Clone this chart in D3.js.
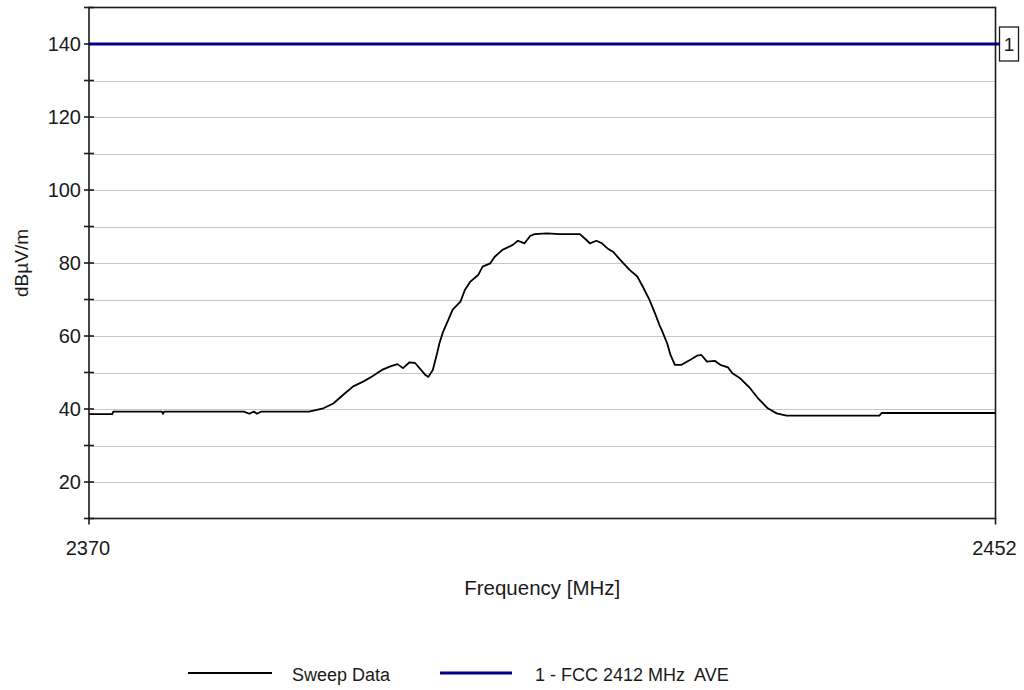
<!DOCTYPE html>
<html>
<head>
<meta charset="utf-8">
<script src="https://cdn.jsdelivr.net/npm/d3@7"></script>
<style>
  html, body { margin: 0; padding: 0; background: #fff; }
  svg { display: block; font-family: "Liberation Sans", Arial, sans-serif; }
</style>
</head>
<body>
<svg id="chart" width="1024" height="690"></svg>
<script>
// ---- data ----
const sweepFreq = [
  2370.0, 2372.1, 2372.2, 2376.6, 2376.7, 2376.8, 2384.0, 2384.5, 2384.9, 2385.2, 2385.6, 2389.9,
  2390.4, 2391.2, 2392.1, 2393.0, 2393.9, 2394.8, 2395.6, 2396.5, 2397.2, 2397.9,
  2398.4, 2399.0, 2399.5, 2400.4, 2400.7, 2401.1, 2401.5, 2401.7, 2402.0, 2402.5,
  2402.9, 2403.6, 2404.0, 2404.5, 2405.2, 2405.6, 2406.3, 2406.7, 2407.4, 2408.3,
  2408.8, 2409.4, 2409.9, 2410.3, 2411.4, 2412.6, 2414.4, 2415.0, 2415.3, 2415.9,
  2416.4, 2416.9, 2417.4, 2418.2, 2418.9, 2419.6, 2420.1, 2420.7, 2421.2, 2421.6,
  2421.8, 2422.3, 2422.6, 2423.0, 2423.6, 2424.4, 2425.0, 2425.4, 2425.9, 2426.6,
  2427.1, 2427.8, 2428.2, 2428.9, 2429.8, 2430.5, 2431.4, 2432.2, 2433.1, 2441.5,
  2441.7, 2452.0
];
const sweepLevel = [
  38.6, 38.6, 39.3, 39.3, 38.7, 39.3, 39.3, 38.7, 39.3, 38.7, 39.3, 39.3,
  39.6, 40.2, 41.5, 43.9, 46.2, 47.5, 48.9, 50.7, 51.6, 52.3,
  51.2, 52.8, 52.6, 49.4, 48.8, 50.7, 55.4, 58.0, 60.9, 64.4,
  67.2, 69.4, 72.6, 74.9, 76.7, 79.0, 79.9, 81.7, 83.6, 84.9,
  86.1, 85.4, 87.4, 87.9, 88.1, 87.9, 87.9, 86.3, 85.4, 86.1,
  85.4, 84.0, 83.1, 80.4, 78.1, 76.3, 73.5, 69.9, 66.2, 63.0,
  61.7, 58.0, 54.8, 52.1, 52.1, 53.5, 54.6, 54.8, 53.0, 53.2,
  52.1, 51.4, 49.8, 48.4, 45.7, 43.0, 40.2, 38.8, 38.2, 38.2,
  38.9, 38.9
];
const limitLevel = 140;
const limitLabel = "1";
const xDomain = [2370, 2452];
const xTickValues = [2370, 2452];
const yDomain = [10, 150];
const yGridValues = [20, 30, 40, 50, 60, 70, 80, 90, 100, 110, 120, 130, 140];
const yTickValues = [10, 20, 30, 40, 50, 60, 70, 80, 90, 100, 110, 120, 130, 140, 150];
const yLabelValues = [20, 40, 60, 80, 100, 120, 140];
const xTitle = "Frequency [MHz]";
const yTitle = "dBµV/m";
const legendNames = ["Sweep Data", "1 - FCC 2412 MHz  AVE"];
const legendColors = ["#000000", "#000080"];

// ---- layout ----
const L = 89, R = 995.5, T = 7.5, B = 518.5;
const svg = d3.select("#chart");
const x = d3.scaleLinear().domain(xDomain).range([L, R]);
const y = d3.scaleLinear().domain(yDomain).range([B, T]);

// grid
svg.append("g").selectAll("line").data(yGridValues).join("line")
  .attr("x1", L).attr("x2", R)
  .attr("y1", d => Math.round(y(d)) + 0.5).attr("y2", d => Math.round(y(d)) + 0.5)
  .attr("stroke", "#c8c8c8").attr("stroke-width", 1.2);

// frame
svg.append("rect").attr("x", L).attr("y", T).attr("width", R - L).attr("height", B - T)
  .attr("fill", "none").attr("stroke", "#1a1a1a").attr("stroke-width", 1.6);

// y axis ticks (crossing the axis)
svg.append("g").selectAll("line").data(yTickValues).join("line")
  .attr("x1", L - 5).attr("x2", L + 5)
  .attr("y1", d => y(d)).attr("y2", d => y(d))
  .attr("stroke", "#1a1a1a").attr("stroke-width", 1.6);

// y labels
svg.append("g").selectAll("text").data(yLabelValues).join("text")
  .attr("x", L - 8).attr("y", d => y(d))
  .attr("dy", "0.36em").attr("text-anchor", "end")
  .attr("font-size", 20).attr("fill", "#1a1a1a")
  .text(d => d);

// x axis ticks
svg.append("g").selectAll("line").data(xTickValues).join("line")
  .attr("x1", d => x(d)).attr("x2", d => x(d))
  .attr("y1", B).attr("y2", B + 6)
  .attr("stroke", "#1a1a1a").attr("stroke-width", 1.6);

svg.append("g").selectAll("text").data(xTickValues).join("text")
  .attr("x", d => x(d) - 1).attr("y", 548)
  .attr("dy", "0.36em").attr("text-anchor", "middle")
  .attr("font-size", 20).attr("fill", "#1a1a1a")
  .text(d => d);

// axis titles
svg.append("text").attr("x", (L + R) / 2).attr("y", 588).attr("dy", "0.36em")
  .attr("text-anchor", "middle").attr("font-size", 20.5).attr("fill", "#1a1a1a")
  .text(xTitle);

svg.append("text").attr("transform", `translate(21,${(T + B) / 2}) rotate(-90)`)
  .attr("dy", "0.36em").attr("text-anchor", "middle")
  .attr("font-size", 19).attr("fill", "#1a1a1a")
  .text(yTitle);

// limit line
svg.append("line")
  .attr("x1", L).attr("x2", 999)
  .attr("y1", y(limitLevel)).attr("y2", y(limitLevel))
  .attr("stroke", legendColors[1]).attr("stroke-width", 3);

// limit marker box
const mb = svg.append("g");
mb.append("rect").attr("x", 999.5).attr("y", y(limitLevel) - 17)
  .attr("width", 19).attr("height", 34)
  .attr("fill", "#fff").attr("stroke", "#1a1a1a").attr("stroke-width", 1.3);
mb.append("text").attr("x", 1009).attr("y", y(limitLevel)).attr("dy", "0.36em")
  .attr("text-anchor", "middle").attr("font-size", 19).attr("fill", "#1a1a1a")
  .text(limitLabel);

// sweep data
const pts = sweepFreq.map((f, i) => [f, sweepLevel[i]]);
svg.append("path").datum(pts)
  .attr("d", d3.line().x(d => x(d[0])).y(d => y(d[1])))
  .attr("fill", "none").attr("stroke", legendColors[0]).attr("stroke-width", 1.8)
  .attr("stroke-linejoin", "round");

// legend
const lg = svg.append("g");
const legendItems = [
  { name: legendNames[0], color: legendColors[0], x1: 188, x2: 272, w: 1.8, tx: 292 },
  { name: legendNames[1], color: legendColors[1], x1: 440, x2: 512, w: 3, tx: 535 }
];
legendItems.forEach(it => {
  lg.append("line").attr("x1", it.x1).attr("x2", it.x2).attr("y1", 673).attr("y2", 673)
    .attr("stroke", it.color).attr("stroke-width", it.w);
  lg.append("text").attr("x", it.tx).attr("y", 675).attr("dy", "0.36em")
    .attr("font-size", 18).attr("fill", "#1a1a1a")
    .attr("xml:space", "preserve").style("white-space", "pre")
    .text(it.name);
});
</script>
</body>
</html>
